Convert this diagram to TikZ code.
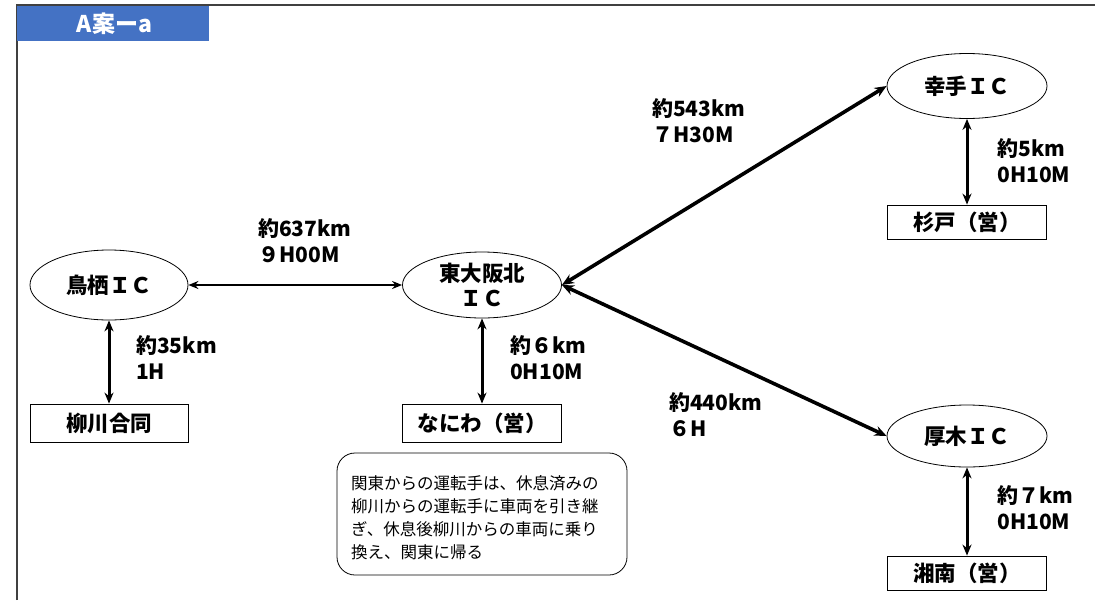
\documentclass[tikz,border=0pt]{standalone}
\usepackage{fontspec}
\setmainfont{Noto Sans CJK JP}
\usetikzlibrary{shapes.geometric,arrows.meta}
\definecolor{tabblue}{HTML}{4472C4}
\tikzset{
  ic/.style={ellipse,draw,line width=0.8pt,inner sep=0pt,align=center,font=\fontsize{21.5}{25}\selectfont\bfseries},
  office/.style={rectangle,draw,line width=0.8pt,inner sep=0pt,font=\fontsize{21.5}{25}\selectfont\bfseries},
  lbl/.style={anchor=north west,align=left,inner sep=0pt,font=\fontsize{21}{26.5}\selectfont\bfseries},
  link/.style={{Stealth[length=11pt,width=9pt]}-{Stealth[length=11pt,width=9pt]},line width=3pt},
  dlink/.style={{Stealth[length=12pt,width=10pt]}-{Stealth[length=12pt,width=10pt]},line width=3.6pt},
  hlink/.style={{Stealth[length=10pt,width=8pt]}-{Stealth[length=10pt,width=8pt]},line width=2.4pt},
}
\begin{document}
\begin{tikzpicture}[x=1pt,y=-1pt]
\useasboundingbox (0,0) rectangle (1095,600);
\fill[white] (0,0) rectangle (1095,600);
% frame
\draw[line width=1.6pt,black!75] (17,600) -- (17,5) -- (1095,5);
\fill[tabblue] (17,6) rectangle (209,41);
\node[text=white,font=\fontsize{23}{27}\selectfont\bfseries] (title) at (114.5,23.5) {A案ーa};
% nodes
\node[ic,minimum width=158pt,minimum height=70pt] (tosu) at (109,285) {鳥栖ＩＣ};
\node[ic,minimum width=159pt,minimum height=66pt] (higa) at (482,285) {東大阪北\\ＩＣ};
\node[ic,minimum width=160pt,minimum height=65pt] (satte) at (967,86) {幸手ＩＣ};
\node[ic,minimum width=160pt,minimum height=62pt] (atsugi) at (967,436) {厚木ＩＣ};
\node[office,minimum width=158pt,minimum height=38pt] (yana) at (109,423) {柳川合同};
\node[office,minimum width=159pt,minimum height=38pt] (naniwa) at (482,423) {なにわ（営）};
\node[office,minimum width=159pt,minimum height=34pt] (sugito) at (967,222) {杉戸（営）};
\node[office,minimum width=159pt,minimum height=34pt] (shonan) at (967,573) {湘南（営）};
% connectors
\draw[hlink] (tosu.east) -- (higa.west);
\draw[dlink] (higa.east) -- (satte.west);
\draw[dlink] (higa.east) -- (atsugi.west);
\draw[link] (tosu.south) -- (yana.north);
\draw[link] (higa.south) -- (naniwa.north);
\draw[link] (satte.south) -- (sugito.north);
\draw[link] (atsugi.south) -- (shonan.north);
% labels
\node[lbl] (l1) at (258,218) {約637km\\９H00M};
\node[lbl] (l2) at (136,335) {約35km\\1H};
\node[lbl] (l3) at (510,335) {約６km\\0H10M};
\node[lbl] (l4) at (652,98) {約543km\\７H30M};
\node[lbl] (l5) at (669,392) {約440km\\６H};
\node[lbl] (l6) at (997,138) {約5km\\0H10M};
\node[lbl] (l7) at (997,485) {約７km\\0H10M};
% callout
\draw[line width=0.8pt,rounded corners=18pt] (337,453) rectangle (627,575);
\node[anchor=north west,align=left,inner sep=0pt,font=\fontsize{16.5}{23}\selectfont] (note) at (351,475) {関東からの運転手は、休息済みの\\柳川からの運転手に車両を引き継\\ぎ、休息後柳川からの車両に乗り\\換え、関東に帰る};
\end{tikzpicture}
\end{document}
